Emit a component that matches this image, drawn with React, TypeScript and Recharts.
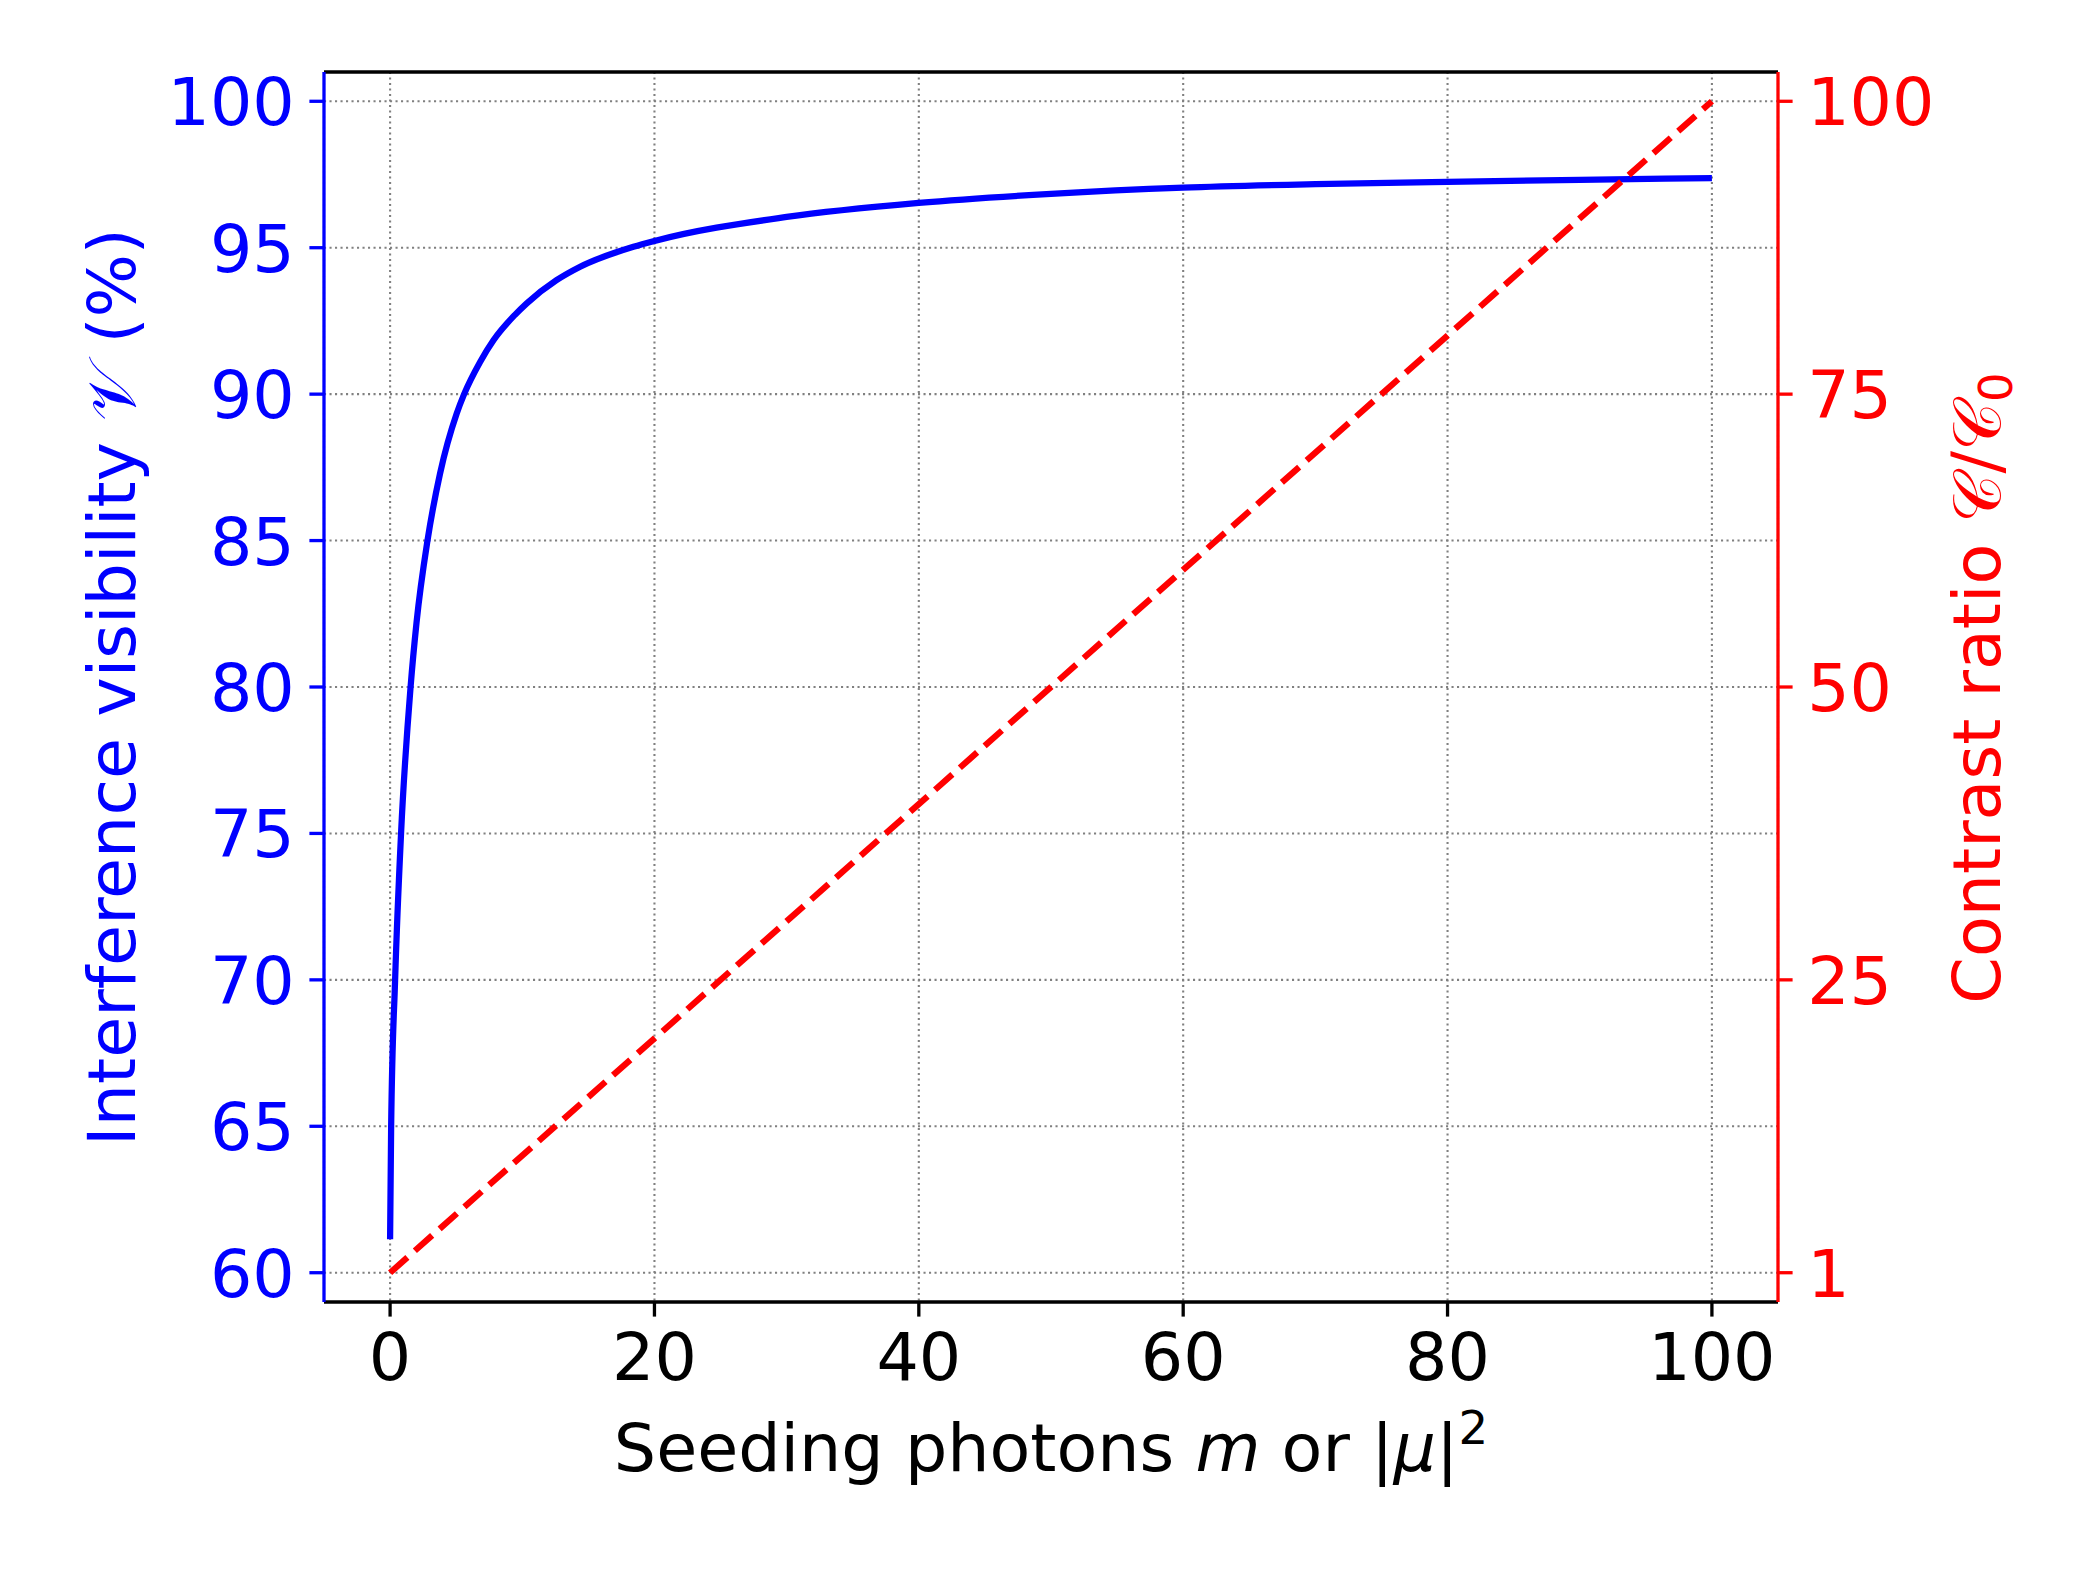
import React from 'react';
import { LineChart, Line, XAxis, YAxis, CartesianGrid, ReferenceLine } from 'recharts';

// seeding photons m (or |mu|^2) and the interference visibility
const seedPhotons = [0, 0.08, 0.38, 0.83, 1.55, 2.0, 2.83, 3.78, 5.04, 5.6, 6.81, 7.82, 9.43, 10.34, 12.59, 14.38, 18.41, 20, 30, 40, 50, 60, 70, 80, 90, 100];
const visibility = [61.14, 65, 70, 75, 80, 82.2, 85, 87.29, 89.34, 90.0, 91.1, 91.84, 92.7, 93.1, 93.89, 94.35, 95.03, 95.23, 96.05, 96.53, 96.84, 97.05, 97.17, 97.25, 97.32, 97.38];

// contrast ratio line (right axis), drawn from the "1" tick to the "100" tick
const contrastPhotons = [0, 100];
const contrastRatio = [0, 100];

const xTicks = [0, 20, 40, 60, 80, 100];
const leftTicks = [60, 65, 70, 75, 80, 85, 90, 95, 100];
const rightTicks = [0, 25, 50, 75, 100];
const rightTickLabels = ['1', '25', '50', '75', '100'];

const visData = seedPhotons.map((m, i) => ({ m, v: visibility[i] }));
const contrastData = contrastPhotons.map((m, i) => ({ m, c: contrastRatio[i] }));

const W = 2100;
const H = 1575;
const FONT = 'DejaVu Sans';
const FS = 66.7;
const BLUE = '#0000ff';
const RED = '#ff0000';

const LeftTick = ({ x, y, payload }: any) => (
  <text x={x} y={y} dy={24} textAnchor="end" fill={BLUE} fontSize={FS} fontFamily={FONT}>
    {payload.value}
  </text>
);

const RightTick = ({ x, y, payload }: any) => (
  <text x={x} y={y} dy={24} textAnchor="start" fill={RED} fontSize={FS} fontFamily={FONT}>
    {rightTickLabels[rightTicks.indexOf(payload.value)]}
  </text>
);

const BottomTick = ({ x, y, payload }: any) => (
  <text x={x} y={y} dy={48.6} textAnchor="middle" fill="#000" fontSize={FS} fontFamily={FONT}>
    {payload.value}
  </text>
);

const App = () => {
  return (
    <div style={{ position: 'absolute', left: 0, top: 0, width: W, height: H, background: '#fff' }}>
      <LineChart width={W} height={H} data={visData} margin={{ top: 72, right: 122, bottom: 73, left: 124 }}>
        <CartesianGrid yAxisId="left" stroke="#808080" strokeWidth={2.1} strokeDasharray="2.1 3.4" />
        <XAxis
          dataKey="m"
          type="number"
          domain={[-5, 105]}
          ticks={xTicks}
          allowDataOverflow
          height={200}
          axisLine={{ stroke: '#000', strokeWidth: 3.3 }}
          tickLine={{ stroke: '#000', strokeWidth: 3.3 }}
          tickSize={14.6}
          tickMargin={14.6}
          tick={<BottomTick />}
          interval={0}
        />
        <YAxis
          yAxisId="left"
          orientation="left"
          type="number"
          domain={[59, 101]}
          ticks={leftTicks}
          allowDataOverflow
          width={200}
          axisLine={{ stroke: BLUE, strokeWidth: 3.3 }}
          tickLine={{ stroke: BLUE, strokeWidth: 3.3 }}
          tickSize={14.6}
          tickMargin={14.6}
          tick={<LeftTick />}
          interval={0}
        />
        <YAxis
          yAxisId="right"
          orientation="right"
          type="number"
          domain={[-2.5, 102.5]}
          ticks={rightTicks}
          allowDataOverflow
          width={200}
          axisLine={{ stroke: RED, strokeWidth: 3.3 }}
          tickLine={{ stroke: RED, strokeWidth: 3.3 }}
          tickSize={14.6}
          tickMargin={14.6}
          tick={<RightTick />}
          interval={0}
        />
        <ReferenceLine yAxisId="left" y={101} stroke="#000" strokeWidth={3.3} />
        <Line
          yAxisId="left"
          data={visData}
          dataKey="v"
          type="monotone"
          stroke={BLUE}
          strokeWidth={6.25}
          dot={false}
          activeDot={false}
          isAnimationActive={false}
        />
        <Line
          yAxisId="right"
          data={contrastData}
          dataKey="c"
          type="linear"
          stroke={RED}
          strokeWidth={6.25}
          strokeDasharray="23.1 10"
          dot={false}
          activeDot={false}
          isAnimationActive={false}
        />
      </LineChart>
      <svg width={W} height={H} style={{ position: 'absolute', left: 0, top: 0, pointerEvents: 'none' }}>
        <text
          transform="translate(135, 687) rotate(-90)"
          textAnchor="middle"
          fill={BLUE}
          fontSize={FS}
          fontFamily={FONT}
        >
          Interference visibility <tspan fontFamily="DejaVu Serif, serif">𝒱</tspan> (%)
        </text>
        <text
          transform="translate(2000, 688) rotate(-90)"
          textAnchor="middle"
          fill={RED}
          fontSize={FS}
          fontFamily={FONT}
        >
          Contrast ratio <tspan fontFamily="DejaVu Serif, serif">𝒞/𝒞</tspan>
          <tspan fontSize={46.7} dy={12}>0</tspan>
        </text>
        <text x={1051} y={1470.5} textAnchor="middle" fill="#000" fontSize={FS} fontFamily={FONT}>
          Seeding photons <tspan fontStyle="italic">m</tspan> or |<tspan fontStyle="italic">μ</tspan>|
          <tspan fontSize={46.7} dy={-27}>2</tspan>
        </text>
      </svg>
    </div>
  );
};

export default App;
